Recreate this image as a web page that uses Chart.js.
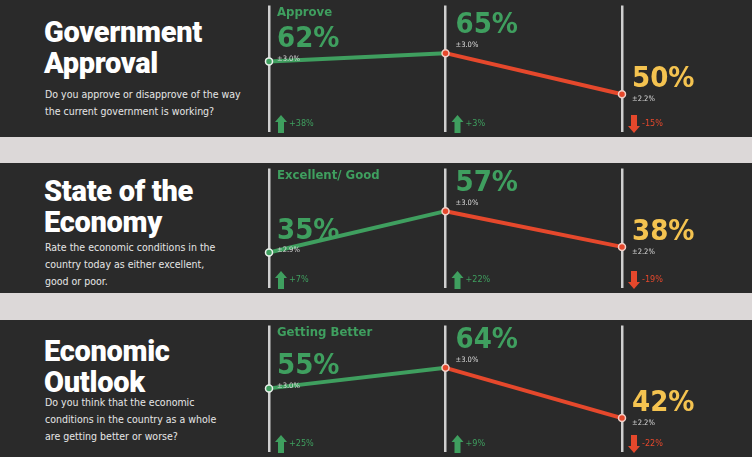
<!DOCTYPE html><html><head><meta charset="utf-8">
<script src="https://cdn.jsdelivr.net/npm/chart.js@4"></script>
<style>
body{margin:0;width:752px;height:457px;background:#dcd8d8;overflow:hidden;position:relative;font-family:Roboto,'Noto Sans',sans-serif}
.p{position:absolute;left:0;width:752px;background:#2a2a2a}
.p canvas{position:absolute;left:0;top:0}
.t{position:absolute;left:44px;color:#fff;font-family:Roboto,'Open Sans',sans-serif;font-weight:900;font-size:29px;line-height:31px;letter-spacing:-0.3px}
.s{position:absolute;left:45px;color:#e6e6e6;font-family:'DejaVu Sans Condensed','Roboto',sans-serif;font-size:10.5px;line-height:17px;width:230px}
</style></head><body>
<script>
const periods = ['P1','P2','P3'];
const titles = [['Government','Approval'],['State of the','Economy'],['Economic','Outlook']];
const questions = [['Do you approve or disapprove of the way','the current government is working?'],
 ['Rate the economic conditions in the','country today as either excellent,','good or poor.'],
 ['Do you think that the economic','conditions in the country as a whole','are getting better or worse?']];
const answerLabels = ['Approve','Excellent/ Good','Getting Better'];
const approveValues = [62,65,50];
const economyValues = [35,57,38];
const outlookValues = [55,64,42];
const approveMargins = ['±3.0%','±3.0%','±2.2%'];
const economyMargins = ['±2.9%','±3.0%','±2.2%'];
const outlookMargins = ['±3.0%','±3.0%','±2.2%'];
const approveChanges = [38,3,-15];
const economyChanges = [7,22,-19];
const outlookChanges = [25,9,-22];

const G='#3f9f5f', R='#e5482c', Y='#f4c350';
const panels=[
 {top:0,h:137,vals:approveValues,m:approveMargins,c:approveChanges,min:36.4,max:82.4,tt:17,st:86},
 {top:163,h:130,vals:economyValues,m:economyMargins,c:economyChanges,min:16.4,max:79.7,tt:13,st:76},
 {top:320,h:137,vals:outlookValues,m:outlookMargins,c:outlookChanges,min:27.4,max:82.5,tt:16,st:74}
];
const narrow="'DejaVu Sans Condensed','Roboto',sans-serif";
panels.forEach((p,i)=>{
 const d=document.createElement('div');d.className='p';d.style.top=p.top+'px';d.style.height=p.h+'px';
 d.innerHTML=`<div class="t" style="top:${p.tt}px">${titles[i].join('<br>')}</div><div class="s" style="top:${p.st}px">${questions[i].join('<br>')}</div>`;
 const cv=document.createElement('canvas');cv.width=752;cv.height=p.h;cv.style.width='752px';cv.style.height=p.h+'px';
 d.appendChild(cv);document.body.appendChild(d);
 const labels={id:'lab',afterDatasetsDraw(ch){
  const ctx=ch.ctx,meta=ch.getDatasetMeta(0);ctx.save();ctx.textBaseline='top';
  ctx.fillStyle=G;ctx.font="bold 13px "+narrow;ctx.fillText(answerLabels[i],277,6);
  meta.data.forEach((pt,k)=>{
   const col=k===2?Y:G;let x,y;
   if(k===2){x=pt.x+10;y=pt.y-29;}else if(k===0){x=pt.x+8;y=pt.y-36;}else{x=pt.x+10;y=pt.y-42;}
   ctx.fillStyle=col;ctx.font="bold 29px "+narrow;ctx.fillText(p.vals[k]+'%',x,y);
   ctx.fillStyle='#ddd';ctx.font="7.5px "+narrow;ctx.fillText(p.m[k],x,y+30);
   const ax=pt.x+12,ay=p.h-22,up=p.c[k]>=0,ac=up?G:R;
   ctx.fillStyle=ac;ctx.beginPath();
   if(up){ctx.moveTo(ax-6,ay+7);ctx.lineTo(ax,ay);ctx.lineTo(ax+6,ay+7);ctx.lineTo(ax+3,ay+7);ctx.lineTo(ax+3,ay+18);ctx.lineTo(ax-3,ay+18);ctx.lineTo(ax-3,ay+7);}
   else{ctx.moveTo(ax-3,ay);ctx.lineTo(ax+3,ay);ctx.lineTo(ax+3,ay+11);ctx.lineTo(ax+6,ay+11);ctx.lineTo(ax,ay+18);ctx.lineTo(ax-6,ay+11);ctx.lineTo(ax-3,ay+11);}
   ctx.closePath();ctx.fill();
   ctx.font="9px "+narrow;ctx.fillText((up?'+':'')+p.c[k]+'%',ax+8,ay+4);
  });ctx.restore();}};
 new Chart(cv,{type:'line',data:{labels:periods,datasets:[{data:p.vals,borderWidth:4,
   segment:{borderColor:c=>c.p0DataIndex===0?G:R},
   pointRadius:3.5,pointBorderWidth:1.5,pointBackgroundColor:[G,R,R],pointBorderColor:['#e8f0ea','#f2d0c8','#f2d0c8']}]},
  options:{responsive:false,animation:false,layout:{padding:{left:269,right:130,top:0,bottom:0}},
   plugins:{legend:{display:false},tooltip:{enabled:false}},
   scales:{x:{offset:false,ticks:{display:false},grid:{color:'#cfcfcf',lineWidth:2.5,drawTicks:false},border:{display:false}},
    y:{display:false,min:p.min,max:p.max}}},plugins:[labels]});
});
</script></body></html>
